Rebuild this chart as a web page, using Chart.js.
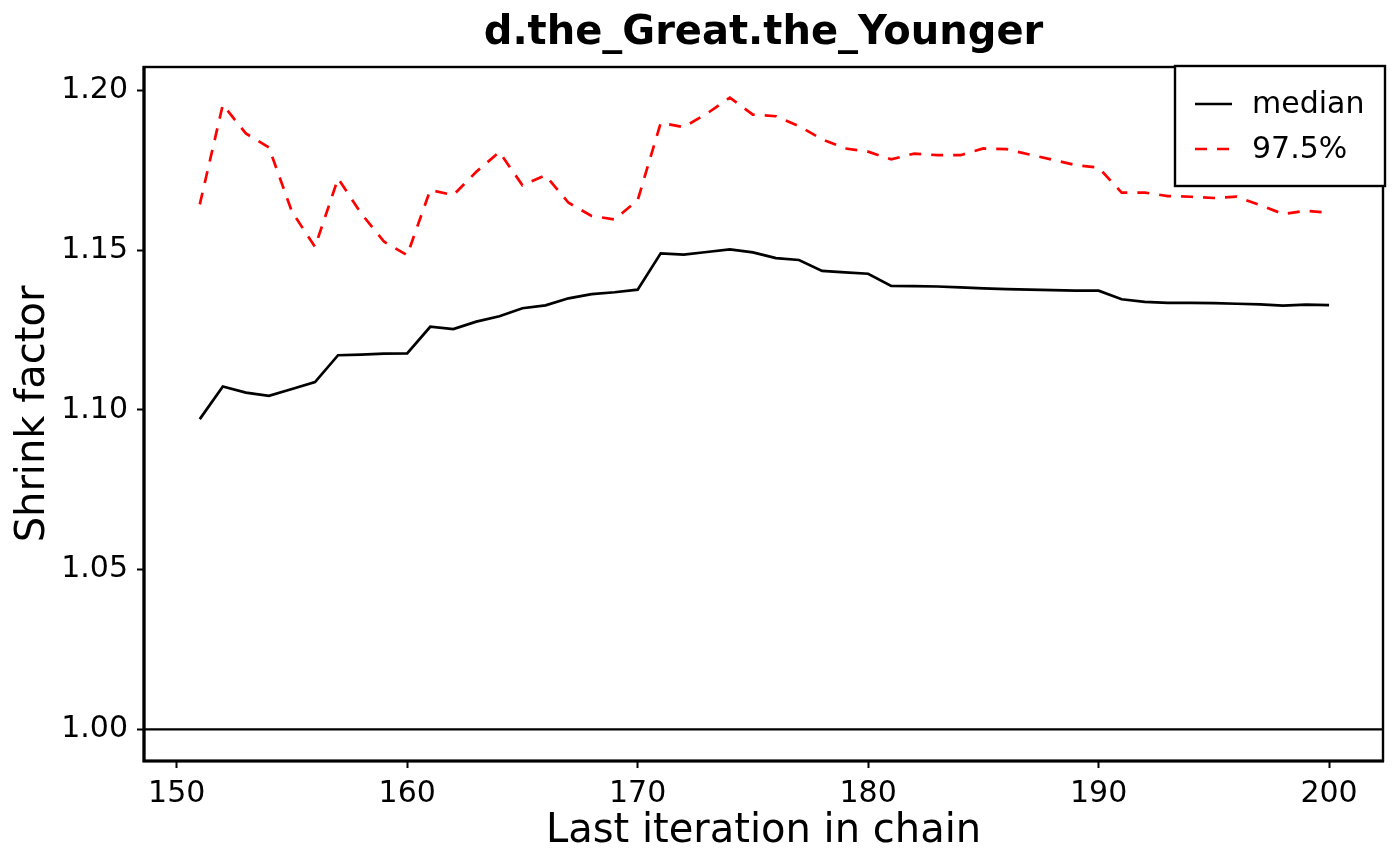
<!DOCTYPE html>
<html>
<head>
<meta charset="utf-8">
<script src="https://cdn.jsdelivr.net/npm/chart.js@4.4.1/dist/chart.umd.min.js"></script>
<style>
  html, body { margin: 0; padding: 0; background: #fff; }
  #wrap { width: 1400px; height: 866px; }
</style>
</head>
<body>
<div id="wrap"><canvas id="shrinkChart" width="1400" height="866"></canvas></div>
<script>
// Gelman shrink factor over last iteration in chain
const iterations = [151, 152, 153, 154, 155, 156, 157, 158, 159, 160,
  161, 162, 163, 164, 165, 166, 167, 168, 169, 170,
  171, 172, 173, 174, 175, 176, 177, 178, 179, 180,
  181, 182, 183, 184, 185, 186, 187, 188, 189, 190,
  191, 192, 193, 194, 195, 196, 197, 198, 199, 200];

const medianVals = [1.0971, 1.1073, 1.1054, 1.1044, 1.1065, 1.1087, 1.1171, 1.1173, 1.1176, 1.1177,
  1.1260, 1.1253, 1.1276, 1.1293, 1.1318, 1.1327, 1.1349, 1.1362, 1.1368, 1.1376,
  1.1490, 1.1486, 1.1494, 1.1502, 1.1493, 1.1475, 1.1469, 1.1435, 1.1430, 1.1426,
  1.1388, 1.1387, 1.1386, 1.1383, 1.1380, 1.1378, 1.1376, 1.1375, 1.1373, 1.1373,
  1.1346, 1.1338, 1.1335, 1.1335, 1.1334, 1.1332, 1.1330, 1.1326, 1.1329, 1.1328];

const upperVals = [1.1643, 1.1955, 1.1865, 1.1821, 1.1620, 1.1510, 1.1724, 1.1615, 1.1526, 1.1484,
  1.1688, 1.1672, 1.1745, 1.1807, 1.1703, 1.1734, 1.1648, 1.1607, 1.1596, 1.1656,
  1.1898, 1.1885, 1.1927, 1.1977, 1.1924, 1.1919, 1.1888, 1.1847, 1.1818, 1.1808,
  1.1784, 1.1802, 1.1797, 1.1797, 1.1818, 1.1816, 1.1799, 1.1783, 1.1766, 1.1758,
  1.1680, 1.1680, 1.1669, 1.1667, 1.1663, 1.1667, 1.1641, 1.1613, 1.1623, 1.1617];

const xTicks = [150, 160, 170, 180, 190, 200];
const yTicks = [1.00, 1.05, 1.10, 1.15, 1.20];
const refLine = 1.0;
const seriesNames = ['median', '97.5%'];

const FONT = '"DejaVu Sans", "Liberation Sans", sans-serif';
Chart.defaults.color = '#000';
Chart.defaults.font.family = FONT;

const toPoints = vals => vals.map((v, i) => ({ x: iterations[i], y: v }));

// reference line at 1, full box, and the legend inside the plot
const framePlugin = {
  id: 'frame',
  beforeDatasetsDraw(chart) {
    const { ctx, chartArea: a, scales: { y } } = chart;
    const yp = y.getPixelForValue(refLine);
    ctx.save();
    ctx.strokeStyle = '#000';
    ctx.lineWidth = 2.4;
    ctx.beginPath();
    ctx.moveTo(a.left, yp);
    ctx.lineTo(a.right, yp);
    ctx.stroke();
    ctx.restore();
  },
  afterDraw(chart) {
    const { ctx, chartArea: a } = chart;
    ctx.save();
    ctx.strokeStyle = '#000';
    ctx.lineWidth = 2.4;
    ctx.strokeRect(a.left, a.top, a.right - a.left, a.bottom - a.top);
    ctx.lineWidth = 3.2;
    ctx.beginPath();
    ctx.moveTo(a.left, a.top - 1);
    ctx.lineTo(a.left, a.bottom);
    ctx.lineTo(a.right + 1, a.bottom);
    ctx.stroke();

    // legend
    const w = 210, h = 120;
    const lx = a.right + 2 - w, ly = a.top - 1;
    ctx.fillStyle = '#fff';
    ctx.fillRect(lx, ly, w, h);
    ctx.lineWidth = 2.4;
    ctx.strokeRect(lx, ly, w, h);
    ctx.font = '30px ' + FONT;
    ctx.textBaseline = 'middle';
    ctx.textAlign = 'left';
    chart.data.datasets.forEach((ds, i) => {
      const ry = ly + 38 + i * 45;
      ctx.strokeStyle = ds.borderColor;
      ctx.lineWidth = ds.borderWidth;
      ctx.setLineDash(ds.borderDash || []);
      ctx.beginPath();
      ctx.moveTo(lx + 20, ry);
      ctx.lineTo(lx + 57, ry);
      ctx.stroke();
      ctx.setLineDash([]);
      ctx.fillStyle = '#000';
      ctx.fillText(ds.label, lx + 77, ry + 1);
    });
    ctx.restore();
  }
};

new Chart(document.getElementById('shrinkChart'), {
  type: 'line',
  data: {
    datasets: [
      {
        label: seriesNames[0],
        data: toPoints(medianVals),
        borderColor: '#000',
        borderWidth: 2.7,
        pointRadius: 0,
        tension: 0,
        fill: false
      },
      {
        label: seriesNames[1],
        data: toPoints(upperVals),
        borderColor: '#ff0000',
        borderWidth: 2.7,
        borderDash: [12, 10],
        pointRadius: 0,
        tension: 0,
        fill: false
      }
    ]
  },
  options: {
    responsive: false,
    animation: false,
    devicePixelRatio: 1,
    layout: { padding: { left: 0, right: 17, top: 0, bottom: 0 } },
    plugins: {
      legend: { display: false },
      tooltip: { enabled: false },
      title: {
        display: true,
        text: 'd.the_Great.the_Younger',
        fullSize: false,
        color: '#000',
        font: { size: 40, weight: 'bold', family: FONT, lineHeight: 1.2 },
        padding: { top: 10, bottom: 9 }
      }
    },
    scales: {
      x: {
        type: 'linear',
        min: 148.58,
        max: 202.34,
        afterFit: s => { s.height = 105; },
        afterBuildTicks: s => { s.ticks = xTicks.map(v => ({ value: v })); },
        grid: { drawOnChartArea: false, drawTicks: true, tickLength: 7, tickWidth: 2, tickColor: '#000' },
        border: { display: false },
        ticks: {
          autoSkip: false,
          maxRotation: 0,
          padding: 8,
          font: { size: 30, family: FONT },
          callback: v => String(v)
        },
        title: {
          display: true,
          text: 'Last iteration in chain',
          font: { size: 40, family: FONT, lineHeight: 1.2 },
          padding: { top: 0, bottom: 10 }
        }
      },
      y: {
        type: 'linear',
        min: 0.9901,
        max: 1.2073,
        afterFit: s => { s.width = 144; },
        afterBuildTicks: s => { s.ticks = yTicks.map(v => ({ value: v })); },
        grid: { drawOnChartArea: false, drawTicks: true, tickLength: 7, tickWidth: 2, tickColor: '#000' },
        border: { display: false },
        ticks: {
          autoSkip: false,
          padding: 9,
          font: { size: 30, family: FONT },
          callback: v => v.toFixed(2)
        },
        title: {
          display: true,
          text: 'Shrink factor',
          font: { size: 40, family: FONT, lineHeight: 1.2 },
          padding: { top: 10, bottom: 0 }
        }
      }
    }
  },
  plugins: [framePlugin]
});
</script>
</body>
</html>
